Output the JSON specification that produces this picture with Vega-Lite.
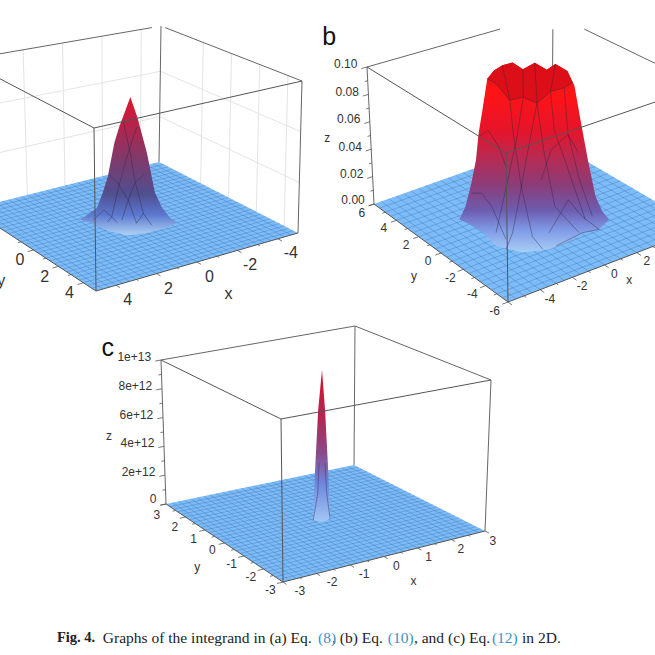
{"$schema":"https://vega.github.io/schema/vega-lite/v6.json","width":655,"height":655,"padding":0,"autosize":{"type":"none"},"background":"white","config":{"view":{"stroke":null}},
"datasets":{"views":[
{"p":"a","x0":5,"xs":-10,"y0":5,"ys":-10,"zm":1,"Fx":96,"Fy":291,"Rx":298,"Ry":233,"Lx":-29,"Ly":209,"Bx":159,"By":162,"fx":94,"fy":128,"rx":302,"ry":81,"lx":-36,"ly":60,"bx":161,"by":26},
{"p":"b","x0":-6,"xs":12,"y0":-6,"ys":12,"zm":0.1,"Fx":508,"Fy":302,"Rx":701,"Ry":228,"Lx":374,"Ly":204,"Bx":552,"By":141,"fx":506,"fy":153,"rx":702,"ry":86,"lx":367,"ly":67,"bx":553,"by":14},
{"p":"c","x0":-3,"xs":6,"y0":-3,"ys":6,"zm":1e13,"Fx":283,"Fy":582,"Rx":485,"Ry":531,"Lx":166,"Ly":504,"Bx":354,"By":465,"fx":281,"fy":419,"rx":491,"ry":380,"lx":161,"ly":360,"bx":355,"by":326},
{"p":"n","x0":0,"xs":1,"y0":0,"ys":1,"zm":1,"Fx":0,"Fy":0,"Rx":655,"Ry":0,"Lx":0,"Ly":655,"Bx":655,"By":655,"fx":0,"fy":0,"rx":655,"ry":0,"lx":0,"ly":655,"bx":655,"by":655}],
"rows":[
{"k":"wall","p":"a","x":-5,"y":-2,"z":0,"x2":-5,"y2":-2,"z2":1},{"k":"wall","p":"a","x":-5,"y":0,"z":0,"x2":-5,"y2":0,"z2":1},{"k":"wall","p":"a","x":-5,"y":2,"z":0,"x2":-5,"y2":2,"z2":1},{"k":"wall","p":"a","x":-5,"y":4,"z":0,"x2":-5,"y2":4,"z2":1},
{"k":"wall","p":"a","x":-5,"y":-5,"z":0.333,"x2":-5,"y2":5,"z2":0.333},{"k":"wall","p":"a","x":-5,"y":-5,"z":0.667,"x2":-5,"y2":5,"z2":0.667},
{"k":"wall","p":"a","x":-4,"y":-5,"z":0,"x2":-4,"y2":-5,"z2":1},{"k":"wall","p":"a","x":-2,"y":-5,"z":0,"x2":-2,"y2":-5,"z2":1},{"k":"wall","p":"a","x":0,"y":-5,"z":0,"x2":0,"y2":-5,"z2":1},{"k":"wall","p":"a","x":2,"y":-5,"z":0,"x2":2,"y2":-5,"z2":1},
{"k":"wall","p":"a","x":5,"y":-5,"z":0.333,"x2":-5,"y2":-5,"z2":0.333},{"k":"wall","p":"a","x":5,"y":-5,"z":0.667,"x2":-5,"y2":-5,"z2":0.667},
{"k":"back","p":"a","x":-5,"y":-5,"z":0,"x2":-5,"y2":-5,"z2":1},{"k":"back","p":"a","x":5,"y":-5,"z":1,"x2":-4.54,"y2":-5,"z2":1},{"k":"back","p":"a","x":-5,"y":5,"z":1,"x2":-5,"y2":-4.7,"z2":1},{"k":"back","p":"a","x":-5,"y":5,"z":0,"x2":-5,"y2":5,"z2":1},
{"k":"back","p":"b","x":6,"y":6,"z":0,"x2":6,"y2":6,"z2":0.088},{"k":"back","p":"b","x":-6,"y":6,"z":0.1,"x2":2.58,"y2":6,"z2":0.1},{"k":"back","p":"b","x":6,"y":-6,"z":0.1,"x2":6,"y2":3.48,"z2":0.1},{"k":"back","p":"b","x":-6,"y":6,"z":0,"x2":-6,"y2":6,"z2":0.1},
{"k":"back","p":"c","x":3,"y":3,"z":0,"x2":3,"y2":3,"z2":1e13},{"k":"back","p":"c","x":-3,"y":3,"z":1e13,"x2":3,"y2":3,"z2":1e13},{"k":"back","p":"c","x":3,"y":-3,"z":1e13,"x2":3,"y2":3,"z2":1e13},{"k":"back","p":"c","x":3,"y":-3,"z":0,"x2":3,"y2":-3,"z2":1e13},{"k":"back","p":"c","x":-3,"y":3,"z":0,"x2":-3,"y2":3,"z2":1e13},
{"k":"plane","p":"a","g":"pa","i":0,"x":5,"y":5,"z":0},{"k":"plane","p":"a","g":"pa","i":1,"x":-5,"y":5,"z":0},{"k":"plane","p":"a","g":"pa","i":2,"x":-5,"y":-5,"z":0},{"k":"plane","p":"a","g":"pa","i":3,"x":5,"y":-5,"z":0},
{"k":"plane","p":"b","g":"pb","i":0,"x":-6,"y":-6,"z":0},{"k":"plane","p":"b","g":"pb","i":1,"x":6,"y":-6,"z":0},{"k":"plane","p":"b","g":"pb","i":2,"x":6,"y":6,"z":0},{"k":"plane","p":"b","g":"pb","i":3,"x":-6,"y":6,"z":0},
{"k":"plane","p":"c","g":"pc","i":0,"x":-3,"y":-3,"z":0},{"k":"plane","p":"c","g":"pc","i":1,"x":3,"y":-3,"z":0},{"k":"plane","p":"c","g":"pc","i":2,"x":3,"y":3,"z":0},{"k":"plane","p":"c","g":"pc","i":3,"x":-3,"y":3,"z":0},
{"k":"grid","p":"a","a":"x","v":-4.667},{"k":"grid","p":"a","a":"x","v":-4.333},{"k":"grid","p":"a","a":"x","v":-4},{"k":"grid","p":"a","a":"x","v":-3.667},{"k":"grid","p":"a","a":"x","v":-3.333},{"k":"grid","p":"a","a":"x","v":-3},{"k":"grid","p":"a","a":"x","v":-2.667},{"k":"grid","p":"a","a":"x","v":-2.333},{"k":"grid","p":"a","a":"x","v":-2},{"k":"grid","p":"a","a":"x","v":-1.667},{"k":"grid","p":"a","a":"x","v":-1.333},{"k":"grid","p":"a","a":"x","v":-1},{"k":"grid","p":"a","a":"x","v":-0.667},{"k":"grid","p":"a","a":"x","v":-0.333},{"k":"grid","p":"a","a":"x","v":0},{"k":"grid","p":"a","a":"x","v":0.333},{"k":"grid","p":"a","a":"x","v":0.667},{"k":"grid","p":"a","a":"x","v":1},{"k":"grid","p":"a","a":"x","v":1.333},{"k":"grid","p":"a","a":"x","v":1.667},{"k":"grid","p":"a","a":"x","v":2},{"k":"grid","p":"a","a":"x","v":2.333},{"k":"grid","p":"a","a":"x","v":2.667},{"k":"grid","p":"a","a":"x","v":3},{"k":"grid","p":"a","a":"x","v":3.333},{"k":"grid","p":"a","a":"x","v":3.667},{"k":"grid","p":"a","a":"x","v":4},{"k":"grid","p":"a","a":"x","v":4.333},{"k":"grid","p":"a","a":"x","v":4.667},
{"k":"grid","p":"a","a":"y","v":-4.667},{"k":"grid","p":"a","a":"y","v":-4.333},{"k":"grid","p":"a","a":"y","v":-4},{"k":"grid","p":"a","a":"y","v":-3.667},{"k":"grid","p":"a","a":"y","v":-3.333},{"k":"grid","p":"a","a":"y","v":-3},{"k":"grid","p":"a","a":"y","v":-2.667},{"k":"grid","p":"a","a":"y","v":-2.333},{"k":"grid","p":"a","a":"y","v":-2},{"k":"grid","p":"a","a":"y","v":-1.667},{"k":"grid","p":"a","a":"y","v":-1.333},{"k":"grid","p":"a","a":"y","v":-1},{"k":"grid","p":"a","a":"y","v":-0.667},{"k":"grid","p":"a","a":"y","v":-0.333},{"k":"grid","p":"a","a":"y","v":0},{"k":"grid","p":"a","a":"y","v":0.333},{"k":"grid","p":"a","a":"y","v":0.667},{"k":"grid","p":"a","a":"y","v":1},{"k":"grid","p":"a","a":"y","v":1.333},{"k":"grid","p":"a","a":"y","v":1.667},{"k":"grid","p":"a","a":"y","v":2},{"k":"grid","p":"a","a":"y","v":2.333},{"k":"grid","p":"a","a":"y","v":2.667},{"k":"grid","p":"a","a":"y","v":3},{"k":"grid","p":"a","a":"y","v":3.333},{"k":"grid","p":"a","a":"y","v":3.667},{"k":"grid","p":"a","a":"y","v":4},{"k":"grid","p":"a","a":"y","v":4.333},{"k":"grid","p":"a","a":"y","v":4.667},
{"k":"grid","p":"b","a":"x","v":-5.5},{"k":"grid","p":"b","a":"x","v":-5},{"k":"grid","p":"b","a":"x","v":-4.5},{"k":"grid","p":"b","a":"x","v":-4},{"k":"grid","p":"b","a":"x","v":-3.5},{"k":"grid","p":"b","a":"x","v":-3},{"k":"grid","p":"b","a":"x","v":-2.5},{"k":"grid","p":"b","a":"x","v":-2},{"k":"grid","p":"b","a":"x","v":-1.5},{"k":"grid","p":"b","a":"x","v":-1},{"k":"grid","p":"b","a":"x","v":-0.5},{"k":"grid","p":"b","a":"x","v":0},{"k":"grid","p":"b","a":"x","v":0.5},{"k":"grid","p":"b","a":"x","v":1},{"k":"grid","p":"b","a":"x","v":1.5},{"k":"grid","p":"b","a":"x","v":2},{"k":"grid","p":"b","a":"x","v":2.5},{"k":"grid","p":"b","a":"x","v":3},{"k":"grid","p":"b","a":"x","v":3.5},{"k":"grid","p":"b","a":"x","v":4},{"k":"grid","p":"b","a":"x","v":4.5},{"k":"grid","p":"b","a":"x","v":5},{"k":"grid","p":"b","a":"x","v":5.5},
{"k":"grid","p":"b","a":"y","v":-5.5},{"k":"grid","p":"b","a":"y","v":-5},{"k":"grid","p":"b","a":"y","v":-4.5},{"k":"grid","p":"b","a":"y","v":-4},{"k":"grid","p":"b","a":"y","v":-3.5},{"k":"grid","p":"b","a":"y","v":-3},{"k":"grid","p":"b","a":"y","v":-2.5},{"k":"grid","p":"b","a":"y","v":-2},{"k":"grid","p":"b","a":"y","v":-1.5},{"k":"grid","p":"b","a":"y","v":-1},{"k":"grid","p":"b","a":"y","v":-0.5},{"k":"grid","p":"b","a":"y","v":0},{"k":"grid","p":"b","a":"y","v":0.5},{"k":"grid","p":"b","a":"y","v":1},{"k":"grid","p":"b","a":"y","v":1.5},{"k":"grid","p":"b","a":"y","v":2},{"k":"grid","p":"b","a":"y","v":2.5},{"k":"grid","p":"b","a":"y","v":3},{"k":"grid","p":"b","a":"y","v":3.5},{"k":"grid","p":"b","a":"y","v":4},{"k":"grid","p":"b","a":"y","v":4.5},{"k":"grid","p":"b","a":"y","v":5},{"k":"grid","p":"b","a":"y","v":5.5},
{"k":"grid","p":"c","a":"x","v":-2.8},{"k":"grid","p":"c","a":"x","v":-2.6},{"k":"grid","p":"c","a":"x","v":-2.4},{"k":"grid","p":"c","a":"x","v":-2.2},{"k":"grid","p":"c","a":"x","v":-2},{"k":"grid","p":"c","a":"x","v":-1.8},{"k":"grid","p":"c","a":"x","v":-1.6},{"k":"grid","p":"c","a":"x","v":-1.4},{"k":"grid","p":"c","a":"x","v":-1.2},{"k":"grid","p":"c","a":"x","v":-1},{"k":"grid","p":"c","a":"x","v":-0.8},{"k":"grid","p":"c","a":"x","v":-0.6},{"k":"grid","p":"c","a":"x","v":-0.4},{"k":"grid","p":"c","a":"x","v":-0.2},{"k":"grid","p":"c","a":"x","v":0},{"k":"grid","p":"c","a":"x","v":0.2},{"k":"grid","p":"c","a":"x","v":0.4},{"k":"grid","p":"c","a":"x","v":0.6},{"k":"grid","p":"c","a":"x","v":0.8},{"k":"grid","p":"c","a":"x","v":1},{"k":"grid","p":"c","a":"x","v":1.2},{"k":"grid","p":"c","a":"x","v":1.4},{"k":"grid","p":"c","a":"x","v":1.6},{"k":"grid","p":"c","a":"x","v":1.8},{"k":"grid","p":"c","a":"x","v":2},{"k":"grid","p":"c","a":"x","v":2.2},{"k":"grid","p":"c","a":"x","v":2.4},{"k":"grid","p":"c","a":"x","v":2.6},{"k":"grid","p":"c","a":"x","v":2.8},
{"k":"grid","p":"c","a":"y","v":-2.8},{"k":"grid","p":"c","a":"y","v":-2.6},{"k":"grid","p":"c","a":"y","v":-2.4},{"k":"grid","p":"c","a":"y","v":-2.2},{"k":"grid","p":"c","a":"y","v":-2},{"k":"grid","p":"c","a":"y","v":-1.8},{"k":"grid","p":"c","a":"y","v":-1.6},{"k":"grid","p":"c","a":"y","v":-1.4},{"k":"grid","p":"c","a":"y","v":-1.2},{"k":"grid","p":"c","a":"y","v":-1},{"k":"grid","p":"c","a":"y","v":-0.8},{"k":"grid","p":"c","a":"y","v":-0.6},{"k":"grid","p":"c","a":"y","v":-0.4},{"k":"grid","p":"c","a":"y","v":-0.2},{"k":"grid","p":"c","a":"y","v":0},{"k":"grid","p":"c","a":"y","v":0.2},{"k":"grid","p":"c","a":"y","v":0.4},{"k":"grid","p":"c","a":"y","v":0.6},{"k":"grid","p":"c","a":"y","v":0.8},{"k":"grid","p":"c","a":"y","v":1},{"k":"grid","p":"c","a":"y","v":1.2},{"k":"grid","p":"c","a":"y","v":1.4},{"k":"grid","p":"c","a":"y","v":1.6},{"k":"grid","p":"c","a":"y","v":1.8},{"k":"grid","p":"c","a":"y","v":2},{"k":"grid","p":"c","a":"y","v":2.2},{"k":"grid","p":"c","a":"y","v":2.4},{"k":"grid","p":"c","a":"y","v":2.6},{"k":"grid","p":"c","a":"y","v":2.8},
{"k":"sil","p":"a","g":"sa","i":0,"x":1.04,"y":-1.04,"z":0.088},{"k":"sil","p":"a","g":"sa","i":1,"x":0.86,"y":-0.86,"z":0.191},{"k":"sil","p":"a","g":"sa","i":2,"x":0.7,"y":-0.7,"z":0.3},{"k":"sil","p":"a","g":"sa","i":3,"x":0.49,"y":-0.49,"z":0.531},{"k":"sil","p":"a","g":"sa","i":4,"x":0.34,"y":-0.34,"z":0.64},{"k":"sil","p":"a","g":"sa","i":5,"x":0.18,"y":-0.18,"z":0.735},{"k":"sil","p":"a","g":"sa","i":6,"x":0,"y":0,"z":0.845},{"k":"sil","p":"a","g":"sa","i":7,"x":-0.21,"y":0.21,"z":0.709},{"k":"sil","p":"a","g":"sa","i":8,"x":-0.49,"y":0.49,"z":0.479},{"k":"sil","p":"a","g":"sa","i":9,"x":-0.73,"y":0.73,"z":0.217},{"k":"sil","p":"a","g":"sa","i":10,"x":-0.95,"y":0.95,"z":0.12},{"k":"sil","p":"a","g":"sa","i":11,"x":-1.19,"y":1.19,"z":0.057},{"k":"sil","p":"a","g":"sa","i":12,"x":-1.41,"y":1.41,"z":0.027},{"k":"sil","p":"a","g":"sa","i":13,"x":-0.81,"y":1.23,"z":0},{"k":"sil","p":"a","g":"sa","i":14,"x":-0.04,"y":1.2,"z":0},{"k":"sil","p":"a","g":"sa","i":15,"x":0.83,"y":0.97,"z":0},{"k":"sil","p":"a","g":"sa","i":16,"x":1.24,"y":0.06,"z":0},{"k":"sil","p":"a","g":"sa","i":17,"x":1.38,"y":-1.06,"z":0},{"k":"sil","p":"a","g":"sa","i":18,"x":1.56,"y":-1.56,"z":0},
{"k":"sil","p":"b","g":"sb","i":0,"x":-3.18,"y":2.2,"z":0},{"k":"sil","p":"b","g":"sb","i":1,"x":-2.52,"y":2.52,"z":0.005},{"k":"sil","p":"b","g":"sb","i":2,"x":-2.28,"y":2.28,"z":0.0223},{"k":"sil","p":"b","g":"sb","i":3,"x":-2.09,"y":2.09,"z":0.0393},{"k":"sil","p":"b","g":"sb","i":4,"x":-1.97,"y":1.97,"z":0.0587},{"k":"sil","p":"b","g":"sb","i":5,"x":-1.79,"y":1.79,"z":0.0782},{"k":"sil","p":"b","g":"sb","i":6,"x":-1.61,"y":1.61,"z":0.0989},{"k":"sil","p":"b","g":"sb","i":7,"x":-1.36,"y":1.36,"z":0.1052},{"k":"sil","p":"b","g":"sb","i":8,"x":-1.055,"y":1.055,"z":0.1093},{"k":"sil","p":"b","g":"sb","i":9,"x":-0.688,"y":0.688,"z":0.1118},{"k":"sil","p":"b","g":"sb","i":10,"x":-0.321,"y":0.321,"z":0.1073},{"k":"sil","p":"b","g":"sb","i":11,"x":0.108,"y":-0.108,"z":0.1126},{"k":"sil","p":"b","g":"sb","i":12,"x":0.534,"y":-0.534,"z":0.108},{"k":"sil","p":"b","g":"sb","i":13,"x":0.842,"y":-0.842,"z":0.1125},{"k":"sil","p":"b","g":"sb","i":14,"x":1.268,"y":-1.268,"z":0.1078},{"k":"sil","p":"b","g":"sb","i":15,"x":1.514,"y":-1.514,"z":0.0974},{"k":"sil","p":"b","g":"sb","i":16,"x":1.76,"y":-1.76,"z":0.0689},{"k":"sil","p":"b","g":"sb","i":17,"x":2,"y":-2,"z":0.0428},{"k":"sil","p":"b","g":"sb","i":18,"x":2.25,"y":-2.25,"z":0.0191},{"k":"sil","p":"b","g":"sb","i":19,"x":2.49,"y":-2.49,"z":0.0086},{"k":"sil","p":"b","g":"sb","i":20,"x":2.74,"y":-2.74,"z":0.003},{"k":"sil","p":"b","g":"sb","i":21,"x":1.98,"y":-2.9,"z":0},{"k":"sil","p":"b","g":"sb","i":22,"x":1.1,"y":-2.66,"z":0},{"k":"sil","p":"b","g":"sb","i":23,"x":0.06,"y":-2.94,"z":0},{"k":"sil","p":"b","g":"sb","i":24,"x":-1.24,"y":-3,"z":0},{"k":"sil","p":"b","g":"sb","i":25,"x":-2.53,"y":-2.45,"z":0},{"k":"sil","p":"b","g":"sb","i":26,"x":-3.24,"y":-1.1,"z":0},{"k":"sil","p":"b","g":"sb","i":27,"x":-2.99,"y":0.41,"z":0},{"k":"sil","p":"b","g":"sb","i":28,"x":-3.05,"y":1.49,"z":0},
{"k":"sil","p":"c","g":"sc","i":0,"x":-0.164,"y":0.164,"z":0},{"k":"sil","p":"c","g":"sc","i":1,"x":-0.132,"y":0.132,"z":3.12e12},{"k":"sil","p":"c","g":"sc","i":2,"x":-0.07,"y":0.07,"z":7.38e12},{"k":"sil","p":"c","g":"sc","i":3,"x":0,"y":0,"z":1.01e13},{"k":"sil","p":"c","g":"sc","i":4,"x":0.056,"y":-0.056,"z":7.42e12},{"k":"sil","p":"c","g":"sc","i":5,"x":0.118,"y":-0.118,"z":3.2e12},{"k":"sil","p":"c","g":"sc","i":6,"x":0.15,"y":-0.15,"z":2e11},{"k":"sil","p":"c","g":"sc","i":7,"x":0.006,"y":-0.106,"z":0},{"k":"sil","p":"c","g":"sc","i":8,"x":-0.12,"y":-0.02,"z":0},
{"k":"crown","p":"b","g":"cr","i":0,"x":-1.61,"y":1.61,"z":0.0989},{"k":"crown","p":"b","g":"cr","i":1,"x":-1.36,"y":1.36,"z":0.1052},{"k":"crown","p":"b","g":"cr","i":2,"x":-1.055,"y":1.055,"z":0.1093},{"k":"crown","p":"b","g":"cr","i":3,"x":-0.688,"y":0.688,"z":0.1118},{"k":"crown","p":"b","g":"cr","i":4,"x":-0.321,"y":0.321,"z":0.1073},{"k":"crown","p":"b","g":"cr","i":5,"x":0.108,"y":-0.108,"z":0.1126},{"k":"crown","p":"b","g":"cr","i":6,"x":0.534,"y":-0.534,"z":0.108},{"k":"crown","p":"b","g":"cr","i":7,"x":0.842,"y":-0.842,"z":0.1125},{"k":"crown","p":"b","g":"cr","i":8,"x":1.268,"y":-1.268,"z":0.1078},{"k":"crown","p":"b","g":"cr","i":9,"x":1.45,"y":-1.45,"z":0.0997},{"k":"crown","p":"b","g":"cr","i":10,"x":1.15,"y":-1.15,"z":0.0956},{"k":"crown","p":"b","g":"cr","i":11,"x":0.66,"y":-0.66,"z":0.0925},{"k":"crown","p":"b","g":"cr","i":12,"x":0.17,"y":-0.17,"z":0.0835},{"k":"crown","p":"b","g":"cr","i":13,"x":-0.32,"y":0.32,"z":0.0871},{"k":"crown","p":"b","g":"cr","i":14,"x":-0.81,"y":0.81,"z":0.0844},{"k":"crown","p":"b","g":"cr","i":15,"x":-1.3,"y":1.3,"z":0.0958},
{"k":"rib","p":"a","g":"a1","i":0,"x":0.214,"y":-0.214,"z":0.677},{"k":"rib","p":"a","g":"a1","i":1,"x":0.01,"y":-0.01,"z":0.469},{"k":"rib","p":"a","g":"a1","i":2,"x":-0.12,"y":0.12,"z":0.293},{"k":"rib","p":"a","g":"a1","i":3,"x":-0.38,"y":0.38,"z":0.075},{"k":"rib","p":"a","g":"a1","i":4,"x":-0.63,"y":0.63,"z":0},
{"k":"rib","p":"a","g":"a2","i":0,"x":-0.19,"y":0.19,"z":0.65},{"k":"rib","p":"a","g":"a2","i":1,"x":0.08,"y":-0.08,"z":0.468},{"k":"rib","p":"a","g":"a2","i":2,"x":0.34,"y":-0.34,"z":0.264},{"k":"rib","p":"a","g":"a2","i":3,"x":0.59,"y":-0.59,"z":0.037},{"k":"rib","p":"a","g":"a2","i":4,"x":0.72,"y":-0.72,"z":0},
{"k":"rib","p":"a","g":"a3","i":0,"x":0.64,"y":-0.64,"z":0.315},{"k":"rib","p":"a","g":"a3","i":1,"x":0.39,"y":-0.39,"z":0.263},{"k":"rib","p":"a","g":"a3","i":2,"x":0.08,"y":-0.08,"z":0.157},{"k":"rib","p":"a","g":"a3","i":3,"x":-0.17,"y":0.17,"z":0.006},
{"k":"rib","p":"a","g":"a4","i":0,"x":-0.38,"y":0.38,"z":0.331},{"k":"rib","p":"a","g":"a4","i":1,"x":-0.12,"y":0.12,"z":0.271},{"k":"rib","p":"a","g":"a4","i":2,"x":0.08,"y":-0.08,"z":0.157},{"k":"rib","p":"a","g":"a4","i":3,"x":0.28,"y":-0.28,"z":0.02},
{"k":"rib","p":"a","g":"a5","i":0,"x":0.83,"y":-0.83,"z":0.079},{"k":"rib","p":"a","g":"a5","i":1,"x":0.59,"y":-0.59,"z":0.037},{"k":"rib","p":"a","g":"a5","i":2,"x":0.42,"y":-0.42,"z":0},
{"k":"rib","p":"a","g":"a6","i":0,"x":-0.38,"y":0.38,"z":0.075},{"k":"rib","p":"a","g":"a6","i":1,"x":-0.17,"y":0.17,"z":0.006},
{"k":"rib","p":"a","g":"a7","i":0,"x":1.15,"y":-1.15,"z":0.007},{"k":"rib","p":"a","g":"a7","i":1,"x":0.83,"y":-0.83,"z":0.079},
{"k":"rib","p":"b","g":"b1","i":0,"x":-0.81,"y":0.81,"z":0.0844},{"k":"rib","p":"b","g":"b1","i":1,"x":-0.69,"y":0.69,"z":0.0582},{"k":"rib","p":"b","g":"b1","i":2,"x":-0.44,"y":0.44,"z":0.0225},{"k":"rib","p":"b","g":"b1","i":3,"x":-1.16,"y":-1.42,"z":0},{"k":"rib","p":"b","g":"b1","i":4,"x":-1.52,"y":-2.8,"z":0},
{"k":"rib","p":"b","g":"b2","i":0,"x":-0.32,"y":0.32,"z":0.0871},{"k":"rib","p":"b","g":"b2","i":1,"x":-0.57,"y":0.57,"z":0.0583},{"k":"rib","p":"b","g":"b2","i":2,"x":-0.99,"y":0.99,"z":0.0217},{"k":"rib","p":"b","g":"b2","i":3,"x":-2.44,"y":0,"z":0},
{"k":"rib","p":"b","g":"b3","i":0,"x":0.17,"y":-0.17,"z":0.0835},{"k":"rib","p":"b","g":"b3","i":1,"x":0.41,"y":-0.41,"z":0.0477},{"k":"rib","p":"b","g":"b3","i":2,"x":0.78,"y":-0.78,"z":0.0098},{"k":"rib","p":"b","g":"b3","i":3,"x":0.97,"y":-2.55,"z":0},
{"k":"rib","p":"b","g":"b4","i":0,"x":0.17,"y":-0.17,"z":0.0835},{"k":"rib","p":"b","g":"b4","i":1,"x":-0.2,"y":0.2,"z":0.0469},{"k":"rib","p":"b","g":"b4","i":2,"x":-0.51,"y":0.51,"z":0.0152},{"k":"rib","p":"b","g":"b4","i":3,"x":-1.76,"y":-0.52,"z":0},{"k":"rib","p":"b","g":"b4","i":4,"x":-3.03,"y":-1.67,"z":0},
{"k":"rib","p":"b","g":"b5","i":0,"x":0.66,"y":-0.66,"z":0.0925},{"k":"rib","p":"b","g":"b5","i":1,"x":0.78,"y":-0.78,"z":0.0651},{"k":"rib","p":"b","g":"b5","i":2,"x":1.27,"y":-1.27,"z":0.037},{"k":"rib","p":"b","g":"b5","i":3,"x":1.88,"y":-1.88,"z":0.0018},
{"k":"rib","p":"b","g":"b6","i":0,"x":1.15,"y":-1.15,"z":0.0956},{"k":"rib","p":"b","g":"b6","i":1,"x":1.27,"y":-1.27,"z":0.0634},{"k":"rib","p":"b","g":"b6","i":2,"x":1.64,"y":-1.64,"z":0.0327},{"k":"rib","p":"b","g":"b6","i":3,"x":2.13,"y":-2.13,"z":0.0046},
{"k":"rib","p":"b","g":"b7","i":0,"x":-2.28,"y":2.28,"z":0.015},{"k":"rib","p":"b","g":"b7","i":1,"x":-1.91,"y":1.91,"z":0.0156},{"k":"rib","p":"b","g":"b7","i":2,"x":-1.54,"y":1.54,"z":0.0065},{"k":"rib","p":"b","g":"b7","i":3,"x":-2.43,"y":-0.85,"z":0},
{"k":"rib","p":"b","g":"b8","i":0,"x":-0.26,"y":-1.64,"z":0},{"k":"rib","p":"b","g":"b8","i":1,"x":1.27,"y":-1.27,"z":0.0153},{"k":"rib","p":"b","g":"b8","i":2,"x":1.76,"y":-1.76,"z":0.004},{"k":"rib","p":"b","g":"b8","i":3,"x":1.98,"y":-2.9,"z":0},
{"k":"rib","p":"b","g":"b9","i":0,"x":-1.97,"y":1.97,"z":0.0563},{"k":"rib","p":"b","g":"b9","i":1,"x":-1.61,"y":1.61,"z":0.0616},{"k":"rib","p":"b","g":"b9","i":2,"x":-1.24,"y":1.24,"z":0.0502},{"k":"rib","p":"b","g":"b9","i":3,"x":-0.99,"y":0.99,"z":0.0361},
{"k":"rib","p":"b","g":"b10","i":0,"x":0.29,"y":-0.29,"z":0.0283},{"k":"rib","p":"b","g":"b10","i":1,"x":0.66,"y":-0.66,"z":0.0505},{"k":"rib","p":"b","g":"b10","i":2,"x":1.27,"y":-1.27,"z":0.0622},{"k":"rib","p":"b","g":"b10","i":3,"x":1.64,"y":-1.64,"z":0.0495},
{"k":"rib","p":"b","g":"b11","i":0,"x":-0.77,"y":-2.93,"z":0},{"k":"rib","p":"b","g":"b11","i":1,"x":1.1,"y":-2.66,"z":0},{"k":"rib","p":"b","g":"b11","i":2,"x":1.98,"y":-2.9,"z":0},
{"k":"rib","p":"b","g":"b12","i":0,"x":-1.61,"y":1.61,"z":0.0989},{"k":"rib","p":"b","g":"b12","i":1,"x":-1.3,"y":1.3,"z":0.0958},{"k":"rib","p":"b","g":"b12","i":2,"x":-0.81,"y":0.81,"z":0.0844},{"k":"rib","p":"b","g":"b12","i":3,"x":-0.32,"y":0.32,"z":0.0871},{"k":"rib","p":"b","g":"b12","i":4,"x":0.17,"y":-0.17,"z":0.0835},{"k":"rib","p":"b","g":"b12","i":5,"x":0.66,"y":-0.66,"z":0.0925},{"k":"rib","p":"b","g":"b12","i":6,"x":1.15,"y":-1.15,"z":0.0956},{"k":"rib","p":"b","g":"b12","i":7,"x":1.45,"y":-1.45,"z":0.0997},
{"k":"rib","p":"b","g":"b13","i":0,"x":-1.055,"y":1.055,"z":0.1093},{"k":"rib","p":"b","g":"b13","i":1,"x":-0.81,"y":0.81,"z":0.0844},
{"k":"rib","p":"b","g":"b14","i":0,"x":-0.321,"y":0.321,"z":0.1073},{"k":"rib","p":"b","g":"b14","i":1,"x":-0.32,"y":0.32,"z":0.0871},
{"k":"rib","p":"b","g":"b15","i":0,"x":0.108,"y":-0.108,"z":0.1126},{"k":"rib","p":"b","g":"b15","i":1,"x":0.17,"y":-0.17,"z":0.0835},
{"k":"rib","p":"b","g":"b16","i":0,"x":0.842,"y":-0.842,"z":0.1125},{"k":"rib","p":"b","g":"b16","i":1,"x":0.66,"y":-0.66,"z":0.0925},
{"k":"rib","p":"c","g":"c1","i":0,"x":-0.056,"y":0.056,"z":3.82e12},{"k":"rib","p":"c","g":"c1","i":1,"x":-0.08,"y":0.08,"z":1.8e12},{"k":"rib","p":"c","g":"c1","i":2,"x":-0.164,"y":0.164,"z":0},
{"k":"rib","p":"c","g":"c2","i":0,"x":0.056,"y":-0.056,"z":3.85e12},{"k":"rib","p":"c","g":"c2","i":1,"x":0.088,"y":-0.088,"z":1.85e12},{"k":"rib","p":"c","g":"c2","i":2,"x":0.15,"y":-0.15,"z":2e11},
{"k":"front","p":"a","x":5,"y":5,"z":0,"x2":5,"y2":5,"z2":1},{"k":"front","p":"a","x":5,"y":5,"z":1,"x2":5,"y2":-5,"z2":1},{"k":"front","p":"a","x":5,"y":5,"z":1,"x2":-5,"y2":5,"z2":1},{"k":"front","p":"a","x":5,"y":5,"z":0,"x2":-5,"y2":5,"z2":0},{"k":"front","p":"a","x":5,"y":5,"z":0,"x2":5,"y2":-5,"z2":0},
{"k":"front","p":"b","x":-6,"y":-6,"z":0,"x2":-6,"y2":-6,"z2":0.1},{"k":"front","p":"b","x":-6,"y":-6,"z":0.1,"x2":-6,"y2":6,"z2":0.1},{"k":"front","p":"b","x":-6,"y":-6,"z":0.1,"x2":6,"y2":-6,"z2":0.1},{"k":"front","p":"b","x":-6,"y":-6,"z":0,"x2":6,"y2":-6,"z2":0},{"k":"front","p":"b","x":-6,"y":-6,"z":0,"x2":-6,"y2":6,"z2":0},
{"k":"front","p":"c","x":-3,"y":-3,"z":0,"x2":-3,"y2":-3,"z2":1e13},{"k":"front","p":"c","x":-3,"y":-3,"z":1e13,"x2":-3,"y2":3,"z2":1e13},{"k":"front","p":"c","x":-3,"y":-3,"z":1e13,"x2":3,"y2":-3,"z2":1e13},{"k":"front","p":"c","x":-3,"y":-3,"z":0,"x2":3,"y2":-3,"z2":0},{"k":"front","p":"c","x":-3,"y":-3,"z":0,"x2":-3,"y2":3,"z2":0},
{"k":"tick","p":"a","a":"x","v":4,"m":1},{"k":"tick","p":"a","a":"x","v":3},{"k":"tick","p":"a","a":"x","v":2,"m":1},{"k":"tick","p":"a","a":"x","v":1},{"k":"tick","p":"a","a":"x","v":0,"m":1},{"k":"tick","p":"a","a":"x","v":-1},{"k":"tick","p":"a","a":"x","v":-2,"m":1},{"k":"tick","p":"a","a":"x","v":-3},{"k":"tick","p":"a","a":"x","v":-4,"m":1},
{"k":"tick","p":"a","a":"y","v":4,"m":1},{"k":"tick","p":"a","a":"y","v":3},{"k":"tick","p":"a","a":"y","v":2,"m":1},{"k":"tick","p":"a","a":"y","v":1},{"k":"tick","p":"a","a":"y","v":0,"m":1},{"k":"tick","p":"a","a":"y","v":-1},
{"k":"tick","p":"b","a":"x","v":-6,"m":1},{"k":"tick","p":"b","a":"x","v":-5},{"k":"tick","p":"b","a":"x","v":-4,"m":1},{"k":"tick","p":"b","a":"x","v":-3},{"k":"tick","p":"b","a":"x","v":-2,"m":1},{"k":"tick","p":"b","a":"x","v":-1},{"k":"tick","p":"b","a":"x","v":0,"m":1},{"k":"tick","p":"b","a":"x","v":1},{"k":"tick","p":"b","a":"x","v":2,"m":1},{"k":"tick","p":"b","a":"x","v":3},
{"k":"tick","p":"b","a":"y","v":-6,"m":1},{"k":"tick","p":"b","a":"y","v":-5},{"k":"tick","p":"b","a":"y","v":-4,"m":1},{"k":"tick","p":"b","a":"y","v":-3},{"k":"tick","p":"b","a":"y","v":-2,"m":1},{"k":"tick","p":"b","a":"y","v":-1},{"k":"tick","p":"b","a":"y","v":0,"m":1},{"k":"tick","p":"b","a":"y","v":1},{"k":"tick","p":"b","a":"y","v":2,"m":1},{"k":"tick","p":"b","a":"y","v":3},{"k":"tick","p":"b","a":"y","v":4,"m":1},{"k":"tick","p":"b","a":"y","v":5},{"k":"tick","p":"b","a":"y","v":6,"m":1},
{"k":"tick","p":"b","a":"z","v":0,"m":1},{"k":"tick","p":"b","a":"z","v":0.01},{"k":"tick","p":"b","a":"z","v":0.02,"m":1},{"k":"tick","p":"b","a":"z","v":0.03},{"k":"tick","p":"b","a":"z","v":0.04,"m":1},{"k":"tick","p":"b","a":"z","v":0.05},{"k":"tick","p":"b","a":"z","v":0.06,"m":1},{"k":"tick","p":"b","a":"z","v":0.07},{"k":"tick","p":"b","a":"z","v":0.08,"m":1},{"k":"tick","p":"b","a":"z","v":0.09},{"k":"tick","p":"b","a":"z","v":0.1,"m":1},
{"k":"tick","p":"c","a":"x","v":-3,"m":1},{"k":"tick","p":"c","a":"x","v":-2.5},{"k":"tick","p":"c","a":"x","v":-2,"m":1},{"k":"tick","p":"c","a":"x","v":-1.5},{"k":"tick","p":"c","a":"x","v":-1,"m":1},{"k":"tick","p":"c","a":"x","v":-0.5},{"k":"tick","p":"c","a":"x","v":0,"m":1},{"k":"tick","p":"c","a":"x","v":0.5},{"k":"tick","p":"c","a":"x","v":1,"m":1},{"k":"tick","p":"c","a":"x","v":1.5},{"k":"tick","p":"c","a":"x","v":2,"m":1},{"k":"tick","p":"c","a":"x","v":2.5},{"k":"tick","p":"c","a":"x","v":3,"m":1},
{"k":"tick","p":"c","a":"y","v":-3,"m":1},{"k":"tick","p":"c","a":"y","v":-2.5},{"k":"tick","p":"c","a":"y","v":-2,"m":1},{"k":"tick","p":"c","a":"y","v":-1.5},{"k":"tick","p":"c","a":"y","v":-1,"m":1},{"k":"tick","p":"c","a":"y","v":-0.5},{"k":"tick","p":"c","a":"y","v":0,"m":1},{"k":"tick","p":"c","a":"y","v":0.5},{"k":"tick","p":"c","a":"y","v":1,"m":1},{"k":"tick","p":"c","a":"y","v":1.5},{"k":"tick","p":"c","a":"y","v":2,"m":1},{"k":"tick","p":"c","a":"y","v":2.5},{"k":"tick","p":"c","a":"y","v":3,"m":1},
{"k":"tick","p":"c","a":"z","v":0,"m":1},{"k":"tick","p":"c","a":"z","v":1e12},{"k":"tick","p":"c","a":"z","v":2e12,"m":1},{"k":"tick","p":"c","a":"z","v":3e12},{"k":"tick","p":"c","a":"z","v":4e12,"m":1},{"k":"tick","p":"c","a":"z","v":5e12},{"k":"tick","p":"c","a":"z","v":6e12,"m":1},{"k":"tick","p":"c","a":"z","v":7e12},{"k":"tick","p":"c","a":"z","v":8e12,"m":1},{"k":"tick","p":"c","a":"z","v":9e12},{"k":"tick","p":"c","a":"z","v":1e13,"m":1},
{"k":"lab","p":"a","x":4.3,"y":6.4,"z":-0.013,"lbl":"4"},{"k":"lab","p":"a","x":2.3,"y":6.4,"z":-0.013,"lbl":"2"},{"k":"lab","p":"a","x":0.3,"y":6.4,"z":-0.013,"lbl":"0"},{"k":"lab","p":"a","x":-1.7,"y":6.4,"z":-0.013,"lbl":"-2"},{"k":"lab","p":"a","x":-3.7,"y":6.4,"z":-0.013,"lbl":"-4"},{"k":"lab","p":"a","x":0.2,"y":7.7,"z":-0.065,"lbl":"x"},
{"k":"lab","p":"a","x":5.7,"y":4,"z":-0.04,"lbl":"4"},{"k":"lab","p":"a","x":5.7,"y":2,"z":-0.04,"lbl":"2"},{"k":"lab","p":"a","x":5.7,"y":0,"z":-0.04,"lbl":"0"},{"k":"lab","p":"a","x":7,"y":0.5,"z":-0.1,"lbl":"y"},
{"k":"lab","p":"b","x":-4,"y":-6.84,"z":-0.0015,"lbl":"-4"},{"k":"lab","p":"b","x":-2,"y":-6.84,"z":-0.0015,"lbl":"-2"},{"k":"lab","p":"b","x":0,"y":-6.84,"z":-0.0015,"lbl":"0"},{"k":"lab","p":"b","x":2,"y":-6.84,"z":-0.0015,"lbl":"2"},{"k":"lab","p":"b","x":0.04,"y":-8.04,"z":0,"lbl":"x"},
{"k":"lab","p":"b","x":-6.84,"y":6,"z":-0.0034,"lbl":"6"},{"k":"lab","p":"b","x":-6.84,"y":4,"z":-0.0024,"lbl":"4"},{"k":"lab","p":"b","x":-6.84,"y":2,"z":-0.0024,"lbl":"2"},{"k":"lab","p":"b","x":-6.84,"y":0,"z":-0.0024,"lbl":"0"},{"k":"lab","p":"b","x":-6.84,"y":-2,"z":-0.0024,"lbl":"-2"},{"k":"lab","p":"b","x":-6.84,"y":-4,"z":-0.0024,"lbl":"-4"},{"k":"lab","p":"b","x":-6.84,"y":-6,"z":-0.0024,"lbl":"-6"},{"k":"lab","p":"b","x":-8.4,"y":-0.92,"z":-0.001,"lbl":"y"},{"k":"lab","p":"b","x":-8.8,"y":6,"z":0.058,"lbl":"z"},
{"k":"zlab","p":"b","x":-6.6,"y":6,"z":0.104,"lbl":"0.10"},{"k":"zlab","p":"b","x":-6.6,"y":6,"z":0.084,"lbl":"0.08"},{"k":"zlab","p":"b","x":-6.6,"y":6,"z":0.064,"lbl":"0.06"},{"k":"zlab","p":"b","x":-6.6,"y":6,"z":0.044,"lbl":"0.04"},{"k":"zlab","p":"b","x":-6.6,"y":6,"z":0.024,"lbl":"0.02"},{"k":"zlab","p":"b","x":-6.6,"y":6,"z":0.005,"lbl":"0.00"},
{"k":"lab","p":"c","x":-2.85,"y":-3.6,"z":-1.3e11,"lbl":"-3"},{"k":"lab","p":"c","x":-1.9,"y":-3.6,"z":-1.3e11,"lbl":"-2"},{"k":"lab","p":"c","x":-0.95,"y":-3.6,"z":-1.3e11,"lbl":"-1"},{"k":"lab","p":"c","x":0,"y":-3.6,"z":-1.3e11,"lbl":"0"},{"k":"lab","p":"c","x":0.95,"y":-3.6,"z":-1.3e11,"lbl":"1"},{"k":"lab","p":"c","x":1.9,"y":-3.6,"z":-1.3e11,"lbl":"2"},{"k":"lab","p":"c","x":2.85,"y":-3.6,"z":-1.3e11,"lbl":"3"},{"k":"lab","p":"c","x":-0.04,"y":-4.5,"z":-4e11,"lbl":"x"},
{"k":"lab","p":"c","x":-3.3,"y":3,"z":-6.5e11,"lbl":"3"},{"k":"lab","p":"c","x":-3.34,"y":2,"z":-5e11,"lbl":"2"},{"k":"lab","p":"c","x":-3.36,"y":1,"z":-4e11,"lbl":"1"},{"k":"lab","p":"c","x":-3.38,"y":0,"z":-2.9e11,"lbl":"0"},{"k":"lab","p":"c","x":-3.38,"y":-1,"z":-2.9e11,"lbl":"-1"},{"k":"lab","p":"c","x":-3.38,"y":-2,"z":-2.9e11,"lbl":"-2"},{"k":"lab","p":"c","x":-3.38,"y":-3,"z":-2.9e11,"lbl":"-3"},{"k":"lab","p":"c","x":-4.2,"y":-0.61,"z":-4.5e11,"lbl":"y"},{"k":"lab","p":"c","x":-4.7,"y":3,"z":5.47e12,"lbl":"z"},
{"k":"zlab","p":"c","x":-3.3,"y":3,"z":1.033e13,"lbl":"1e+13"},{"k":"zlab","p":"c","x":-3.3,"y":3,"z":8.33e12,"lbl":"8e+12"},{"k":"zlab","p":"c","x":-3.3,"y":3,"z":6.33e12,"lbl":"6e+12"},{"k":"zlab","p":"c","x":-3.3,"y":3,"z":4.33e12,"lbl":"4e+12"},{"k":"zlab","p":"c","x":-3.3,"y":3,"z":2.33e12,"lbl":"2e+12"},{"k":"zlab","p":"c","x":-3.3,"y":3,"z":4.5e11,"lbl":"0"},
{"k":"big","p":"b","x":-8.28,"y":6,"z":0.129,"lbl":"b"},{"k":"big","p":"c","x":-4.62,"y":3,"z":1.146e13,"lbl":"c"},
{"k":"capb","p":"n","x":0.087,"y":0.974,"z":0,"lbl":"Fig. 4."},
{"k":"capn","p":"n","x":0.157,"y":0.974,"z":0,"lbl":"Graphs of the integrand in (a) Eq."},{"k":"capl","p":"n","x":0.4855,"y":0.974,"z":0,"lbl":"(8)"},{"k":"capn","p":"n","x":0.507,"y":0.974,"z":0,"lbl":", (b) Eq."},{"k":"capl","p":"n","x":0.592,"y":0.974,"z":0,"lbl":"(10)"},{"k":"capn","p":"n","x":0.632,"y":0.974,"z":0,"lbl":", and (c) Eq."},{"k":"capl","p":"n","x":0.751,"y":0.974,"z":0,"lbl":"(12)"},{"k":"capn","p":"n","x":0.797,"y":0.974,"z":0,"lbl":"in 2D."}
]},
"data":{"name":"rows"},
"transform":[
{"lookup":"p","from":{"data":{"name":"views"},"key":"p","fields":["x0","xs","y0","ys","zm","Fx","Fy","Rx","Ry","Lx","Ly","Bx","By","fx","fy","rx","ry","lx","ly","bx","by"]}},
{"calculate":"datum.a ? (datum.a=='x' ? (datum.v-datum.x0)/datum.xs : 0) : (datum.x-datum.x0)/datum.xs","as":"s"},
{"calculate":"datum.a ? (datum.a=='y' ? (datum.v-datum.y0)/datum.ys : datum.a=='z' ? 1 : 0) : (datum.y-datum.y0)/datum.ys","as":"t"},
{"calculate":"datum.a=='z' ? datum.v/datum.zm : datum.a ? 0 : datum.z/datum.zm","as":"w"},
{"calculate":"datum.k=='tick' ? (datum.m ? 0.03 : 0.016) : 1","as":"len"},
{"calculate":"datum.a ? (datum.a=='x' ? datum.s : (datum.k=='grid' ? 1 : -datum.len)) : (datum.x2-datum.x0)/datum.xs","as":"s2"},
{"calculate":"datum.a ? (datum.a=='x' ? (datum.k=='grid' ? 1 : -datum.len) : datum.t) : (datum.y2-datum.y0)/datum.ys","as":"t2"},
{"calculate":"datum.a ? datum.w : datum.z2/datum.zm","as":"w2"},
{"calculate":"(1-datum.w)*((1-datum.s)*(1-datum.t)*datum.Fx+datum.s*(1-datum.t)*datum.Rx+(1-datum.s)*datum.t*datum.Lx+datum.s*datum.t*datum.Bx)+datum.w*((1-datum.s)*(1-datum.t)*datum.fx+datum.s*(1-datum.t)*datum.rx+(1-datum.s)*datum.t*datum.lx+datum.s*datum.t*datum.bx)","as":"px"},
{"calculate":"(1-datum.w)*((1-datum.s)*(1-datum.t)*datum.Fy+datum.s*(1-datum.t)*datum.Ry+(1-datum.s)*datum.t*datum.Ly+datum.s*datum.t*datum.By)+datum.w*((1-datum.s)*(1-datum.t)*datum.fy+datum.s*(1-datum.t)*datum.ry+(1-datum.s)*datum.t*datum.ly+datum.s*datum.t*datum.by)","as":"py"},
{"calculate":"(1-datum.w2)*((1-datum.s2)*(1-datum.t2)*datum.Fx+datum.s2*(1-datum.t2)*datum.Rx+(1-datum.s2)*datum.t2*datum.Lx+datum.s2*datum.t2*datum.Bx)+datum.w2*((1-datum.s2)*(1-datum.t2)*datum.fx+datum.s2*(1-datum.t2)*datum.rx+(1-datum.s2)*datum.t2*datum.lx+datum.s2*datum.t2*datum.bx)","as":"px2"},
{"calculate":"(1-datum.w2)*((1-datum.s2)*(1-datum.t2)*datum.Fy+datum.s2*(1-datum.t2)*datum.Ry+(1-datum.s2)*datum.t2*datum.Ly+datum.s2*datum.t2*datum.By)+datum.w2*((1-datum.s2)*(1-datum.t2)*datum.fy+datum.s2*(1-datum.t2)*datum.ry+(1-datum.s2)*datum.t2*datum.ly+datum.s2*datum.t2*datum.by)","as":"py2"}
],
"encoding":{"x":{"field":"px","type":"quantitative","axis":null,"scale":{"domain":[0,655],"nice":false,"zero":false}},"y":{"field":"py","type":"quantitative","axis":null,"scale":{"domain":[655,0],"nice":false,"zero":false}}},
"layer":[
{"transform":[{"filter":"datum.k=='wall'"}],"mark":{"type":"rule","clip":true,"stroke":"#e4e4e4","strokeWidth":1},"encoding":{"x2":{"field":"px2"},"y2":{"field":"py2"}}},
{"transform":[{"filter":"datum.k=='back'"}],"mark":{"type":"rule","clip":true,"stroke":"#666666","strokeWidth":1},"encoding":{"x2":{"field":"px2"},"y2":{"field":"py2"}}},
{"transform":[{"filter":"datum.k=='plane'"}],"mark":{"type":"line","clip":true,"filled":true,"fill":"#7dbcf8"},"encoding":{"detail":{"field":"g"},"order":{"field":"i","type":"quantitative"}}},
{"transform":[{"filter":"datum.k=='grid'"}],"mark":{"type":"rule","clip":true,"stroke":"#2a619f","strokeWidth":0.6,"opacity":0.5},"encoding":{"x2":{"field":"px2"},"y2":{"field":"py2"}}},
{"transform":[{"filter":"datum.g=='sa'"}],"mark":{"type":"line","clip":true,"filled":true,"fill":{"gradient":"linear","x1":0,"y1":0,"x2":0,"y2":1,"stops":[{"offset":0,"color":"#e4152b"},{"offset":0.2,"color":"#b5234a"},{"offset":0.45,"color":"#7f3a6c"},{"offset":0.7,"color":"#4f4f90"},{"offset":0.85,"color":"#5b78cf"},{"offset":1,"color":"#b0d4f6"}]}},"encoding":{"detail":{"field":"g"},"order":{"field":"i","type":"quantitative"}}},
{"transform":[{"filter":"datum.g=='sb'"}],"mark":{"type":"line","clip":true,"filled":true,"fill":{"gradient":"linear","x1":0,"y1":0,"x2":0,"y2":1,"stops":[{"offset":0,"color":"#d9101a"},{"offset":0.15,"color":"#ff1414"},{"offset":0.36,"color":"#e6142a"},{"offset":0.5,"color":"#b82a52"},{"offset":0.65,"color":"#8a3d7a"},{"offset":0.78,"color":"#6d5db0"},{"offset":0.88,"color":"#7f9ae6"},{"offset":1,"color":"#a9cff6"}]}},"encoding":{"detail":{"field":"g"},"order":{"field":"i","type":"quantitative"}}},
{"transform":[{"filter":"datum.g=='sc'"}],"mark":{"type":"line","clip":true,"filled":true,"fill":{"gradient":"linear","x1":0,"y1":0,"x2":0,"y2":1,"stops":[{"offset":0,"color":"#d8122b"},{"offset":0.3,"color":"#b5234f"},{"offset":0.55,"color":"#8a4a8a"},{"offset":0.75,"color":"#6f86de"},{"offset":1,"color":"#a2c7f7"}]}},"encoding":{"detail":{"field":"g"},"order":{"field":"i","type":"quantitative"}}},
{"transform":[{"filter":"datum.k=='crown'"}],"mark":{"type":"line","clip":true,"filled":true,"fill":"#dc0f18"},"encoding":{"detail":{"field":"g"},"order":{"field":"i","type":"quantitative"}}},
{"transform":[{"filter":"datum.k=='rib'"}],"mark":{"type":"line","clip":true,"stroke":"#2e2440","strokeWidth":0.7,"opacity":0.6},"encoding":{"detail":{"field":"g"},"order":{"field":"i","type":"quantitative"}}},
{"transform":[{"filter":"datum.k=='front'"}],"mark":{"type":"rule","clip":true,"stroke":"#555555","strokeWidth":1},"encoding":{"x2":{"field":"px2"},"y2":{"field":"py2"}}},
{"transform":[{"filter":"datum.k=='tick'"}],"mark":{"type":"rule","clip":true,"stroke":"#555555","strokeWidth":0.8},"encoding":{"x2":{"field":"px2"},"y2":{"field":"py2"}}},
{"transform":[{"filter":"datum.k=='lab' && datum.p=='a'"}],"mark":{"type":"text","clip":true,"font":"Liberation Sans","fontSize":16,"fill":"#333333"},"encoding":{"text":{"field":"lbl"}}},
{"transform":[{"filter":"datum.k=='lab' && datum.p!='a'"}],"mark":{"type":"text","clip":true,"font":"Liberation Sans","fontSize":12,"fill":"#333333"},"encoding":{"text":{"field":"lbl"}}},
{"transform":[{"filter":"datum.k=='zlab'"}],"mark":{"type":"text","clip":true,"align":"right","font":"Liberation Sans","fontSize":12,"fill":"#333333"},"encoding":{"text":{"field":"lbl"}}},
{"transform":[{"filter":"datum.k=='big'"}],"mark":{"type":"text","clip":true,"font":"Liberation Sans","fontSize":25,"fill":"#111111"},"encoding":{"text":{"field":"lbl"}}},
{"transform":[{"filter":"datum.k=='capb'"}],"mark":{"type":"text","clip":true,"align":"left","font":"Liberation Serif","fontWeight":"bold","fontSize":14.5,"fill":"#222222"},"encoding":{"text":{"field":"lbl"}}},
{"transform":[{"filter":"datum.k=='capn'"}],"mark":{"type":"text","clip":true,"align":"left","font":"Liberation Serif","fontSize":15.5,"fill":"#222222"},"encoding":{"text":{"field":"lbl"}}},
{"transform":[{"filter":"datum.k=='capl'"}],"mark":{"type":"text","clip":true,"align":"left","font":"Liberation Serif","fontSize":15.5,"fill":"#3f8fbf"},"encoding":{"text":{"field":"lbl"}}}
]}
